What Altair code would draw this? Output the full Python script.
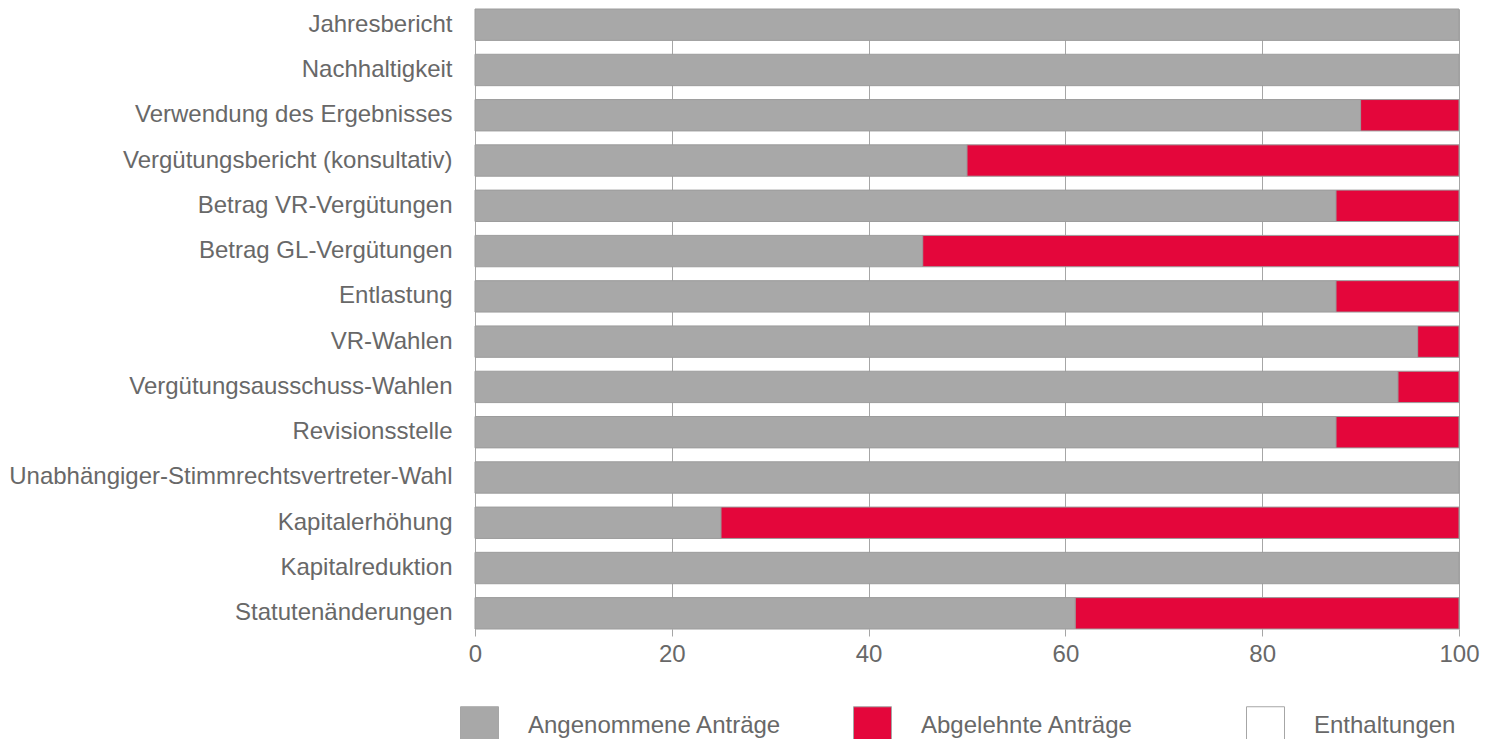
import altair as alt
import pandas as pd

categories = [
    "Jahresbericht",
    "Nachhaltigkeit",
    "Verwendung des Ergebnisses",
    "Vergütungsbericht (konsultativ)",
    "Betrag VR-Vergütungen",
    "Betrag GL-Vergütungen",
    "Entlastung",
    "VR-Wahlen",
    "Vergütungsausschuss-Wahlen",
    "Revisionsstelle",
    "Unabhängiger-Stimmrechtsvertreter-Wahl",
    "Kapitalerhöhung",
    "Kapitalreduktion",
    "Statutenänderungen",
]
angenommen = [100, 100, 90, 50, 87.5, 45.5, 87.5, 95.8, 93.8, 87.5, 100, 25, 100, 61]
abgelehnt = [0, 0, 10, 50, 12.5, 54.5, 12.5, 4.2, 6.2, 12.5, 0, 75, 0, 39]
enthaltungen = [0, 0, 0, 0, 0, 0, 0, 0, 0, 0, 0, 0, 0, 0]
series = ["Angenommene Anträge", "Abgelehnte Anträge", "Enthaltungen"]
colors = ["#a8a8a8", "#e4063b", "#ffffff"]
x_ticks = [0, 20, 40, 60, 80, 100]

rows = []
for i, c in enumerate(categories):
    for k, (s, vals) in enumerate(zip(series, [angenommen, abgelehnt, enthaltungen])):
        rows.append({"Antrag": c, "Art": s, "Anteil": vals[i], "order": k})
df = pd.DataFrame(rows)

FONT = "Liberation Sans"
TXT = "#686868"
FS = 24

chart = (
    alt.Chart(df)
    .transform_filter("datum.Anteil > 0")
    .mark_bar(stroke="#9c9c9c", strokeWidth=1)
    .encode(
        y=alt.Y(
            "Antrag:N",
            sort=categories,
            title=None,
            scale=alt.Scale(paddingInner=0.307, paddingOuter=0),
            axis=alt.Axis(
                ticks=False, domain=False, grid=False,
                labelFont=FONT, labelFontSize=FS, labelColor=TXT,
                labelPadding=23, labelLimit=600,
            ),
        ),
        x=alt.X(
            "Anteil:Q",
            stack="zero",
            title=None,
            scale=alt.Scale(domain=[0, 100], nice=False),
            axis=alt.Axis(
                values=x_ticks, domain=False, grid=True, gridColor="#a6a6a6", gridWidth=1,
                ticks=True, tickSize=7, tickColor="#a6a6a6", labelFlush=False,
                labelFont=FONT, labelFontSize=FS, labelColor=TXT, labelPadding=6,
            ),
        ),
        color=alt.Color(
            "Art:N",
            scale=alt.Scale(domain=series, range=colors),
            legend=alt.Legend(
                title=None, orient="none", legendX=-15, legendY=697,
                direction="horizontal", columns=3, gridAlign="all",
                columnPadding=69, labelOffset=29, symbolType="square",
                symbolSize=1444, symbolStrokeColor="#a6a6a6", symbolStrokeWidth=1,
                labelFont=FONT, labelFontSize=FS, labelColor=TXT, labelLimit=500,
                padding=0,
            ),
        ),
        order=alt.Order("order:Q"),
    )
    .properties(
        width=984,
        height=620,
        autosize=alt.AutoSizeParams(type="none"),
        padding={"left": 467, "top": 1, "right": 24, "bottom": 110},
    )
    .configure_view(stroke=None)
)

chart.save("out.html", embed_options={"renderer": "svg", "actions": False})
